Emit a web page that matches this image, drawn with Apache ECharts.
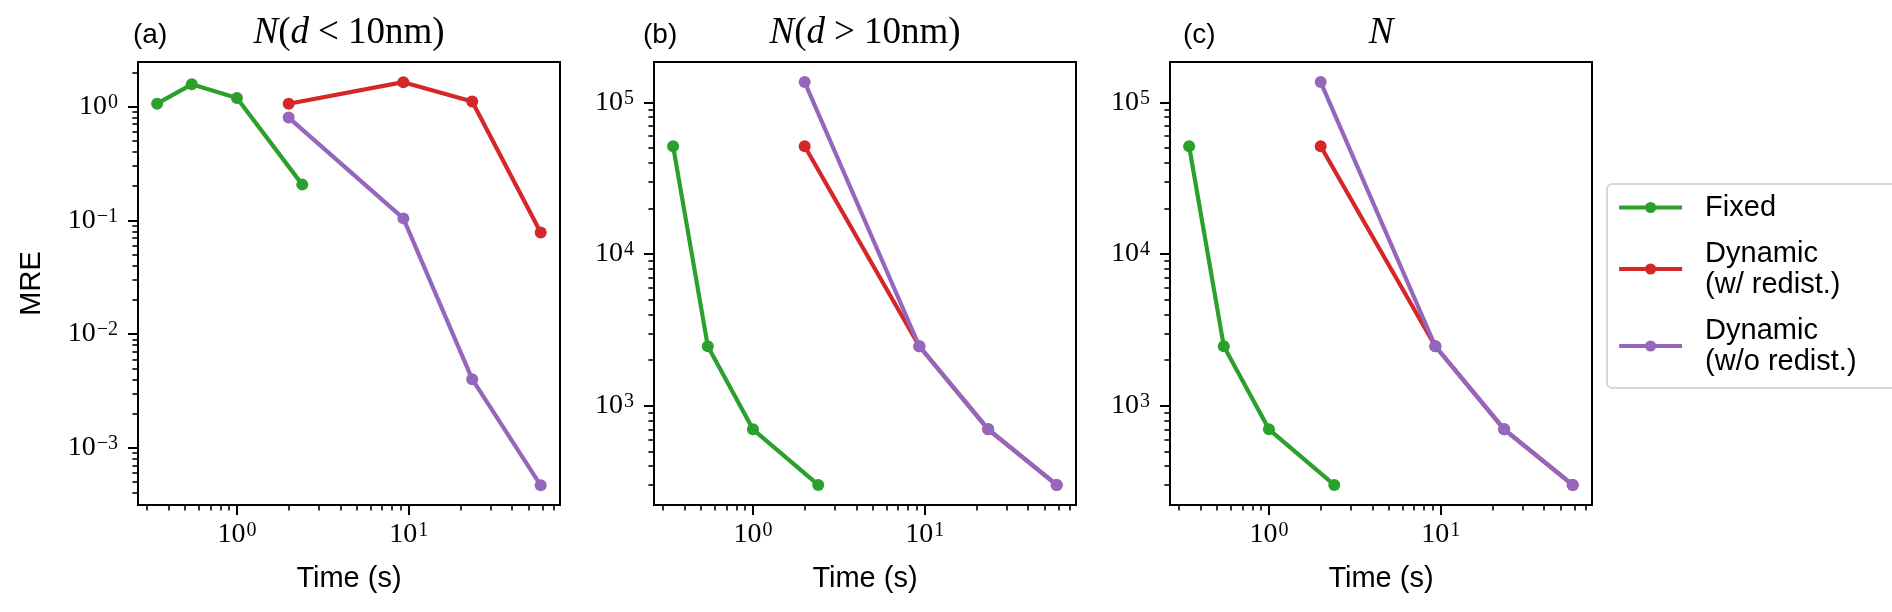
<!DOCTYPE html>
<html><head><meta charset="utf-8">
<script src="https://cdn.jsdelivr.net/npm/echarts@6/dist/echarts.min.js"></script>
<style>html,body{margin:0;padding:0;background:#fff}#c{width:1892px;height:612px}</style>
</head><body><div id="c"></div>
<script>
// ---------------- data ----------------
const timeFixed = [0.343, 0.546, 1.0, 2.40];
const timeDynamic = [2.0, 9.30, 23.4, 58.6];

const smallFixed = [1.06, 1.57, 1.19, 0.206];
const smallRedist = [1.06, 1.64, 1.11, 0.078];
const smallNoRedist = [0.80, 0.104, 0.00401, 0.000468];

const largeFixed = [51400, 2470, 700, 301];
const largeRedist = [51400, 2470, 700, 301];
const largeNoRedist = [136000, 2470, 700, 301];

const totalFixed = [51400, 2470, 700, 301];
const totalRedist = [51400, 2470, 700, 301];
const totalNoRedist = [136000, 2470, 700, 301];

const seriesNames = ['Fixed', 'Dynamic\n(w/ redist.)', 'Dynamic\n(w/o redist.)'];
const seriesColors = ['#2ca02c', '#d62728', '#9467bd'];
const panelLetters = ['(a)', '(b)', '(c)'];
const xMajorTicks = [1, 10];
const yMajorSmall = [0.001, 0.01, 0.1, 1];
const yMajorLarge = [1000, 10000, 100000];

// ---------------- layout ----------------
const GRID_LEFT = [138, 654, 1170];
const GRID_TOP = 62;
const GRID_W = 422;
const GRID_H = 443;
const X_RANGE = [0.2655, 75.9];
const Y_RANGE_SMALL = [0.000314, 2.466];
const Y_RANGE_LARGE = [222, 184500];

const SANS = 'Liberation Sans';
const SERIF = 'Liberation Serif';

function minorTicks(lo, hi) {
  const out = [];
  for (let e = Math.floor(Math.log10(lo)); e <= Math.ceil(Math.log10(hi)); e++) {
    for (let k = 2; k <= 9; k++) {
      const v = k * Math.pow(10, e);
      if (v >= lo && v <= hi) out.push(v);
    }
  }
  return out;
}
function powLabel(v) {
  const e = Math.round(Math.log10(v));
  return '{b|10}{e|' + (e < 0 ? '\u2212' + (-e) : String(e)) + '}';
}
const labelRich = {
  b: { fontFamily: SERIF, fontSize: 28, color: '#000', lineHeight: 28 },
  e: { fontFamily: SERIF, fontSize: 20, color: '#000', verticalAlign: 'top', lineHeight: 19, padding: [0, 0, 0, 1] }
};

const panels = [
  { y: [smallFixed, smallRedist, smallNoRedist], yr: Y_RANGE_SMALL, ym: yMajorSmall },
  { y: [largeFixed, largeRedist, largeNoRedist], yr: Y_RANGE_LARGE, ym: yMajorLarge },
  { y: [totalFixed, totalRedist, totalNoRedist], yr: Y_RANGE_LARGE, ym: yMajorLarge }
];

const grid = [], xAxis = [], yAxis = [], series = [];
panels.forEach((p, i) => {
  grid.push({
    left: GRID_LEFT[i], top: GRID_TOP, width: GRID_W, height: GRID_H,
    show: true, borderColor: '#000', borderWidth: 2, backgroundColor: 'transparent',
    containLabel: false, outerBoundsMode: 'none'
  });
  xAxis.push({
    type: 'log', logBase: 10, gridIndex: i, position: 'bottom',
    min: X_RANGE[0], max: X_RANGE[1],
    axisLine: { show: false }, splitLine: { show: false },
    axisTick: { show: true, customValues: xMajorTicks, length: 10, lineStyle: { color: '#000', width: 2 } },
    axisLabel: { customValues: xMajorTicks, formatter: powLabel, rich: labelRich, margin: 16, color: '#000' },
    name: 'Time (s)', nameLocation: 'middle', nameGap: 59,
    nameTextStyle: { fontFamily: SANS, fontSize: 29, color: '#000' }
  });
  xAxis.push({
    type: 'log', logBase: 10, gridIndex: i, position: 'bottom',
    min: X_RANGE[0], max: X_RANGE[1],
    axisLine: { show: false }, splitLine: { show: false }, axisLabel: { show: false },
    axisTick: { show: true, customValues: minorTicks(X_RANGE[0], X_RANGE[1]), length: 5.6, lineStyle: { color: '#000', width: 1.6 } }
  });
  yAxis.push({
    type: 'log', logBase: 10, gridIndex: i, position: 'left',
    min: p.yr[0], max: p.yr[1],
    axisLine: { show: false }, splitLine: { show: false },
    axisTick: { show: true, customValues: p.ym, length: 10, lineStyle: { color: '#000', width: 2 } },
    axisLabel: { customValues: p.ym, formatter: powLabel, rich: labelRich, margin: 20, color: '#000' },
    name: i === 0 ? 'MRE' : '', nameLocation: 'middle', nameGap: 92,
    nameTextStyle: { fontFamily: SANS, fontSize: 29, color: '#000' }
  });
  yAxis.push({
    type: 'log', logBase: 10, gridIndex: i, position: 'left',
    min: p.yr[0], max: p.yr[1],
    axisLine: { show: false }, splitLine: { show: false }, axisLabel: { show: false },
    axisTick: { show: true, customValues: minorTicks(p.yr[0], p.yr[1]), length: 5.6, lineStyle: { color: '#000', width: 1.6 } }
  });
  p.y.forEach((vals, k) => {
    const xs = k === 0 ? timeFixed : timeDynamic;
    series.push({
      type: 'line', name: seriesNames[k],
      xAxisIndex: 2 * i, yAxisIndex: 2 * i,
      data: xs.map((x, j) => [x, vals[j]]),
      symbol: 'circle', symbolSize: 12, showSymbol: true,
      itemStyle: { color: seriesColors[k] },
      lineStyle: { color: seriesColors[k], width: 4.2 },
      z: 2 + k, animation: false
    });
  });
});

const titleCenters = GRID_LEFT.map(l => l + GRID_W / 2);
const mathRich = {
  i: { fontFamily: SERIF, fontStyle: 'italic', fontSize: 37, color: '#000' },
  r: { fontFamily: SERIF, fontSize: 37, color: '#000' },
  op: { fontFamily: SERIF, fontSize: 37, color: '#000', padding: [0, 9, 0, 9] }
};
const titleTexts = [
  '{i|N}{r|(}{i|d}{op|<}{r|10nm)}',
  '{i|N}{r|(}{i|d}{op|>}{r|10nm)}',
  '{i|N}'
];
const letterX = [133, 643, 1183];
const graphic = [];
panelLetters.forEach((t, i) => {
  graphic.push({
    type: 'text', x: letterX[i], y: 35,
    style: { text: t, fontFamily: SANS, fontSize: 28, fill: '#000',
      align: 'left', textAlign: 'left', verticalAlign: 'middle', textVerticalAlign: 'middle' }
  });
  graphic.push({
    type: 'text', x: titleCenters[i], y: 33,
    style: { text: titleTexts[i], rich: mathRich, fontFamily: SERIF, fontSize: 37, fill: '#000',
      align: 'center', textAlign: 'center', verticalAlign: 'middle', textVerticalAlign: 'middle' }
  });
});

const chart = echarts.init(document.getElementById('c'), null, { renderer: 'canvas' });
chart.setOption({
  animation: false,
  backgroundColor: '#fff',
  grid, xAxis, yAxis, series, graphic,
  legend: {
    data: seriesNames, orient: 'vertical', left: 1607, top: 184,
    itemWidth: 63, itemHeight: 14, itemGap: 15,
    padding: [8, 40, 11, 10],
    lineStyle: { width: 4.2 },
    borderColor: '#cccccc', borderWidth: 1.5, borderRadius: 5, backgroundColor: '#fff',
    textStyle: { fontFamily: SANS, fontSize: 29, lineHeight: 31, color: '#000', padding: [0, 0, 0, 18] },
    selectedMode: false
  }
});
</script></body></html>
